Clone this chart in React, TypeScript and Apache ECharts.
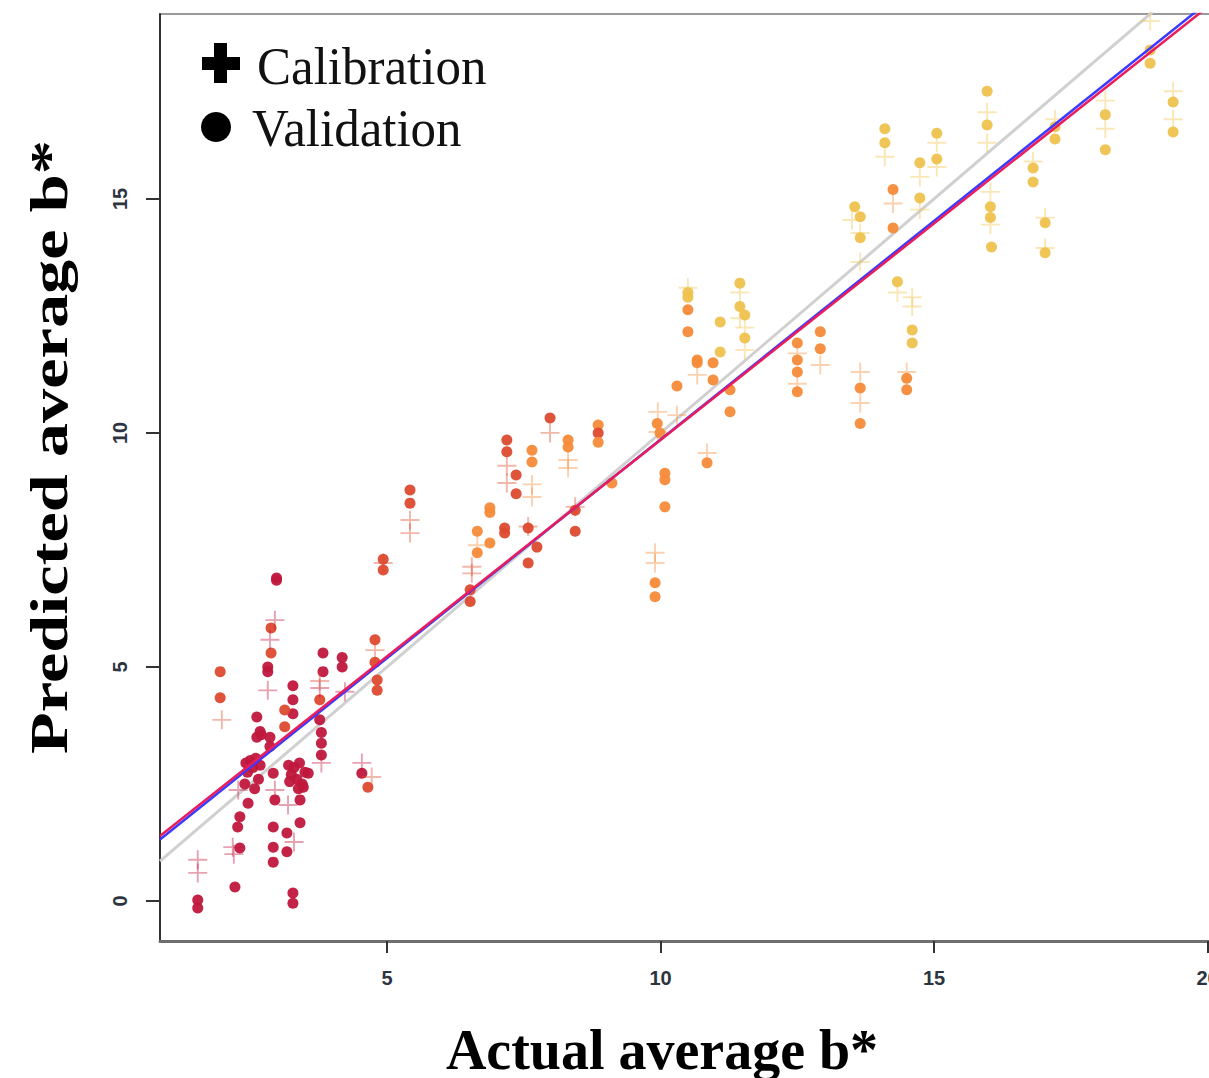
import React, { useEffect, useRef } from "react";
import * as echarts from "echarts";

// [actual, predicted, shade index]
const validationPoints: number[][] = [
  [1.54, 0.02, 0], [1.54, -0.15, 0],
  [1.95, 4.9, 1], [1.95, 4.34, 1],
  [2.22, 0.3, 0], [2.31, 1.13, 0], [2.27, 1.58, 0], [2.31, 1.8, 0], [2.46, 2.09, 0],
  [2.4, 2.5, 0], [2.45, 2.75, 0], [2.5, 3.0, 0], [2.55, 2.85, 0], [2.6, 3.05, 0],
  [2.65, 2.6, 0], [2.42, 2.95, 0], [2.58, 2.4, 0], [2.68, 2.9, 0],
  [2.62, 3.93, 0], [2.68, 3.62, 0], [2.7, 3.55, 0], [2.62, 3.5, 0], [2.86, 3.5, 0], [2.86, 3.3, 0],
  [2.82, 5.0, 0], [2.82, 4.9, 0], [2.88, 5.3, 1], [2.88, 5.83, 1],
  [2.98, 6.9, 0], [2.98, 6.85, 0],
  [2.92, 2.73, 0], [2.95, 2.16, 0], [2.92, 1.58, 0], [2.92, 1.15, 0], [2.92, 0.83, 0],
  [3.17, 1.45, 0], [3.17, 1.05, 0], [3.28, 0.17, 0], [3.28, -0.05, 0],
  [3.28, 4.6, 0], [3.28, 4.3, 0], [3.28, 4.0, 0], [3.13, 4.08, 1], [3.13, 3.72, 1],
  [3.2, 2.9, 0], [3.25, 2.7, 0], [3.3, 2.85, 0], [3.35, 2.6, 0], [3.4, 2.95, 0],
  [3.45, 2.5, 0], [3.5, 2.75, 0], [3.22, 2.55, 0], [3.38, 2.4, 0],
  [3.41, 2.16, 0], [3.41, 1.67, 0], [3.47, 2.43, 0], [3.56, 2.73, 0],
  [3.83, 5.3, 0], [3.83, 4.9, 0], [3.77, 4.3, 1], [3.77, 3.87, 0], [3.8, 3.6, 0], [3.8, 3.37, 0], [3.8, 3.12, 0],
  [4.18, 5.2, 0], [4.18, 5.0, 0], [4.54, 2.73, 0], [4.65, 2.43, 1],
  [4.78, 5.58, 1], [4.78, 5.1, 1], [4.82, 4.72, 1], [4.82, 4.5, 1],
  [4.93, 7.3, 1], [4.93, 7.07, 1], [5.42, 8.78, 1], [5.42, 8.5, 1],
  [6.52, 6.65, 1], [6.52, 6.4, 1], [6.65, 7.9, 2], [6.65, 7.44, 2],
  [6.88, 8.4, 2], [6.88, 8.3, 2], [6.88, 7.65, 2], [7.15, 7.97, 1], [7.15, 7.86, 1],
  [7.19, 9.85, 1], [7.19, 9.6, 1], [7.36, 9.1, 1], [7.36, 8.7, 1],
  [7.65, 9.63, 2], [7.65, 9.38, 2], [7.58, 7.97, 1], [7.58, 7.22, 1], [7.74, 7.56, 1],
  [7.98, 10.32, 1], [8.31, 9.85, 2], [8.31, 9.7, 2], [8.44, 8.35, 1], [8.44, 7.9, 1],
  [8.86, 10.17, 2], [8.86, 10.0, 1], [8.86, 9.8, 2], [9.11, 8.93, 2],
  [9.94, 10.2, 2], [9.99, 10.0, 2], [10.08, 9.14, 2], [10.08, 9.0, 2], [10.08, 8.42, 2],
  [9.9, 6.8, 2], [9.9, 6.5, 2], [10.3, 11.0, 2],
  [10.5, 13.0, 3], [10.5, 12.9, 3], [10.5, 12.63, 2], [10.5, 12.16, 2],
  [10.67, 11.56, 2], [10.67, 11.5, 2], [10.96, 11.5, 2], [10.96, 11.13, 2],
  [11.09, 12.37, 3], [11.09, 11.73, 3], [11.27, 10.92, 2], [11.27, 10.45, 2],
  [11.45, 13.2, 3], [11.45, 12.7, 3], [11.54, 12.52, 3], [11.54, 12.03, 3], [10.85, 9.36, 2],
  [12.5, 11.92, 2], [12.5, 11.56, 2], [12.5, 11.3, 2], [12.5, 10.88, 2],
  [12.92, 12.16, 2], [12.92, 11.8, 2], [13.65, 10.96, 2], [13.65, 10.2, 2],
  [14.33, 13.23, 3], [14.6, 12.2, 3], [14.6, 11.92, 3], [14.5, 11.17, 2], [14.5, 10.92, 2],
  [13.55, 14.83, 3], [13.65, 14.62, 3], [13.65, 14.17, 3], [14.1, 16.5, 3], [14.1, 16.2, 3],
  [14.25, 15.2, 2], [14.25, 14.38, 2], [14.74, 15.77, 3], [14.74, 15.02, 3],
  [15.05, 16.4, 3], [15.05, 15.85, 3], [15.97, 17.3, 3], [15.97, 16.58, 3],
  [16.03, 14.83, 3], [16.03, 14.6, 3], [16.05, 13.97, 3], [16.81, 15.66, 3], [16.81, 15.36, 3],
  [17.03, 14.49, 3], [17.03, 13.85, 3], [17.21, 16.54, 3], [17.21, 16.28, 3],
  [18.13, 16.8, 3], [18.13, 16.05, 3], [18.95, 18.18, 3], [18.95, 17.9, 3],
  [19.37, 17.07, 3], [19.37, 16.43, 3],
];

const calibrationPoints: number[][] = [
  [1.54, 0.88, 0], [1.54, 0.6, 0], [1.98, 3.87, 1], [2.18, 1.15, 0], [2.2, 1.0, 0], [2.28, 2.37, 0],
  [2.82, 4.5, 0], [2.95, 6.0, 0], [2.86, 5.58, 0], [3.19, 2.05, 0], [2.95, 2.37, 0], [3.3, 1.26, 0],
  [3.8, 2.95, 0], [3.77, 4.55, 0], [3.77, 4.7, 1], [4.23, 4.47, 0], [4.54, 2.95, 0], [4.72, 2.65, 1],
  [4.78, 5.36, 1], [4.93, 7.22, 1], [5.42, 8.14, 1], [5.42, 7.86, 1], [6.55, 7.14, 1], [6.55, 7.0, 1],
  [6.65, 7.6, 2], [7.19, 9.3, 1], [7.19, 8.93, 1], [7.65, 8.9, 2], [7.65, 8.63, 2], [7.58, 8.0, 1],
  [7.98, 10.0, 1], [8.31, 9.42, 2], [8.31, 9.25, 2], [8.44, 8.42, 1], [9.95, 10.45, 2], [9.95, 10.02, 2],
  [9.9, 7.44, 2], [9.9, 7.22, 2], [10.67, 11.24, 2], [10.85, 9.57, 2], [11.45, 13.0, 3], [11.45, 12.45, 3],
  [11.54, 12.25, 3], [11.54, 11.77, 3], [10.5, 13.1, 3], [10.3, 10.38, 2], [12.5, 11.7, 2], [12.5, 11.05, 2],
  [12.92, 11.45, 2], [13.65, 11.3, 2], [13.65, 10.64, 2], [14.6, 12.9, 3], [14.6, 12.7, 3], [14.5, 11.3, 2],
  [13.5, 14.55, 3], [13.65, 14.27, 3], [13.65, 13.65, 3], [14.1, 15.9, 3], [14.25, 14.9, 2],
  [14.74, 15.47, 3], [14.74, 14.77, 3], [15.05, 16.2, 3], [15.05, 15.68, 3], [15.97, 16.85, 3],
  [15.97, 16.2, 3], [16.03, 15.15, 3], [16.03, 14.45, 3], [16.81, 15.8, 3], [17.03, 14.6, 3],
  [17.03, 13.95, 3], [17.21, 16.7, 3], [18.13, 17.1, 3], [18.13, 16.5, 3], [18.95, 18.8, 3],
  [19.37, 17.3, 3], [19.37, 16.7, 3], [14.33, 13.0, 3],
];

const shadeColors = ["#c0173c", "#dc4a2e", "#f68b3a", "#efc24e"];
const xTicks = [5, 10, 15, 20];
const yTicks = [0, 5, 10, 15];
const xRange = [0.85, 20.3];
const yRange = [-0.855, 18.95];
const identityFit = [0, 1]; // intercept, slope
const blueFit = [0.52, 0.934];
const redFit = [0.6, 0.925];

const fitLine = (fit: number[]) => xRange.map((x) => [x, fit[0] + fit[1] * x]);

const PLUS_PATH = "path://M9,0H11V9H20V11H11V20H9V11H0V9H9Z";

export default function App() {
  const ref = useRef<HTMLDivElement>(null);
  useEffect(() => {
    if (!ref.current) return;
    const chart = echarts.init(ref.current, null, { renderer: "svg" });
    const tickFont = {
      fontFamily: "'Liberation Sans', Arial, sans-serif",
      fontWeight: "bold" as const,
      fontSize: 20,
      color: "#2b3440",
    };
    chart.setOption({
      animation: false,
      backgroundColor: "#ffffff",
      grid: {
        left: 160, top: 14, right: 16, bottom: 137,
        show: true, borderColor: "#9a9a9a", borderWidth: 2, backgroundColor: "transparent",
      },
      xAxis: {
        type: "value", min: xRange[0], max: xRange[1],
        axisLine: { show: true, onZero: false, lineStyle: { color: "#6e6e6e", width: 3 } },
        axisTick: { show: true, customValues: xTicks, length: 12, lineStyle: { color: "#333", width: 2 } },
        axisLabel: { customValues: xTicks, margin: 27, ...tickFont, showMinLabel: true, showMaxLabel: true },
        splitLine: { show: false },
      },
      yAxis: {
        type: "value", min: yRange[0], max: yRange[1],
        axisLine: { show: true, onZero: false, lineStyle: { color: "#333", width: 2 } },
        axisTick: { show: true, customValues: yTicks, length: 14, lineStyle: { color: "#333", width: 2 } },
        axisLabel: { customValues: yTicks, rotate: 90, margin: 30, ...tickFont },
        splitLine: { show: false },
      },
      series: [
        {
          type: "line", data: fitLine(identityFit), symbol: "none", silent: true,
          lineStyle: { color: "#d0d0d0", width: 3 }, z: 1,
        },
        {
          type: "scatter", data: validationPoints, symbol: "circle", symbolSize: 11,
          itemStyle: { color: (p: any) => shadeColors[p.data[2]], opacity: 0.95 }, z: 2,
        },
        {
          type: "scatter", data: calibrationPoints, symbol: PLUS_PATH, symbolSize: 19,
          itemStyle: { color: (p: any) => shadeColors[p.data[2]], opacity: 0.4 }, z: 3,
        },
        {
          type: "line", data: fitLine(blueFit), symbol: "none", silent: true,
          lineStyle: { color: "#3a3aff", width: 2.5 }, z: 4,
        },
        {
          type: "line", data: fitLine(redFit), symbol: "none", silent: true,
          lineStyle: { color: "#ea1d5c", width: 2.5 }, z: 5,
        },
      ],
      graphic: [
        { type: "rect", shape: { x: 214, y: 43, width: 13, height: 40 }, style: { fill: "#000" } },
        { type: "rect", shape: { x: 202, y: 57, width: 38, height: 13 }, style: { fill: "#000" } },
        { type: "circle", shape: { cx: 216, cy: 127, r: 15 }, style: { fill: "#000" } },
        {
          type: "text", x: 257, y: 66, scaleY: 1.05,
          style: { text: "Calibration", font: "51px 'Liberation Serif', serif", fill: "#111", align: "left", verticalAlign: "middle" },
        },
        {
          type: "text", x: 252, y: 128, scaleY: 1.05,
          style: { text: "Validation", font: "51px 'Liberation Serif', serif", fill: "#111", align: "left", verticalAlign: "middle" },
        },
        {
          type: "text", x: 662, y: 1049, scaleY: 1.03,
          style: { text: "Actual average b*", font: "bold 56px 'Liberation Serif', serif", fill: "#000", align: "center", verticalAlign: "middle" },
        },
        {
          type: "text", x: 49, y: 447, rotation: Math.PI / 2, scaleX: 1.29,
          style: { text: "Predicted average b*", font: "bold 53px 'Liberation Serif', serif", fill: "#000", align: "center", verticalAlign: "middle" },
        },
      ],
    });
    return () => chart.dispose();
  }, []);
  return (
    <div style={{ position: "absolute", left: 0, top: 0, width: 1209, height: 1078, overflow: "hidden", background: "#fff" }}>
      <div ref={ref} style={{ width: 1240, height: 1078 }} />
    </div>
  );
}
